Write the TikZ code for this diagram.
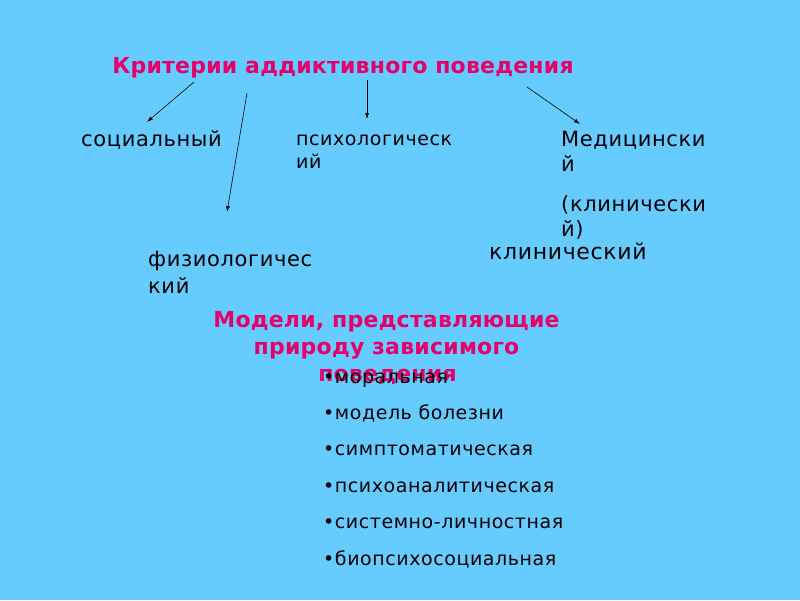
\documentclass[tikz,border=0pt]{standalone}
\usepackage{fontspec}
\setmainfont{DejaVu Sans}
\newfontfamily\bodyfont[LetterSpace=3]{DejaVu Sans}
\newfontfamily\headfont[LetterSpace=1]{DejaVu Sans Bold}
\usetikzlibrary{arrows.meta}
\definecolor{bgblue}{RGB}{102,204,255}
\definecolor{headpink}{RGB}{230,0,105}
\tikzset{
  body/.style={anchor=base west,inner sep=0pt,font=\bodyfont\fontsize{21}{24}\selectfont,text=black},
  bodysmall/.style={anchor=base west,inner sep=0pt,font=\bodyfont\fontsize{19}{22}\selectfont,text=black},
  bodylarge/.style={anchor=base west,inner sep=0pt,font=\bodyfont\fontsize{22}{25}\selectfont,text=black},
  head/.style={inner sep=0pt,font=\headfont\fontsize{22}{25}\selectfont,text=headpink},
  conn/.style={draw=black,line width=0.6pt,-{Latex[length=6pt,width=4pt]}}
}
\begin{document}
\begin{tikzpicture}[x=1pt,y=-1pt]
\fill[bgblue] (0,0) rectangle (800,600);
\useasboundingbox (0,0) rectangle (800,600);
% title
\node[head,anchor=base] (crit) at (343,73) {Критерии аддиктивного поведения};
% criteria
\node[body] (soc) at (81,146) {социальный};
\node[bodysmall] (psy1) at (296,145.5) {психологическ};
\node[bodysmall] (psy2) at (296,168) {ий};
\node[body] (med1) at (561,146.5) {Медицински};
\node[body] (med2) at (561,171.5) {й};
\node[body] (med3) at (561,211.5) {(клинически};
\node[body] (med4) at (561,236.5) {й)};
\node[body] (fiz1) at (148,266.5) {физиологичес};
\node[body] (fiz2) at (148,293) {кий};
\node[bodylarge] (klin) at (489,259) {клинический};
% connectors
\coordinate (a1s) at (194,82); \coordinate (a1e) at (147,122);
\coordinate (a2s) at (247,93); \coordinate (a2e) at (227,212);
\coordinate (a3s) at (367,80); \coordinate (a3e) at (367,119);
\coordinate (a4s) at (527,87); \coordinate (a4e) at (580,124);
\draw[conn] (a1s) -- (a1e);
\draw[conn] (a2s) -- (a2e);
\draw[conn] (a3s) -- (a3e);
\draw[conn] (a4s) -- (a4e);
% models heading
\node[head,anchor=base] (mod1) at (386.5,327) {Модели, представляющие};
\node[head,anchor=base] (mod2) at (386.5,354) {природу зависимого};
\node[head,anchor=base] (mod3) at (387.5,381) {поведения};
% bullets
\node[bodysmall] (b1) at (323,383) {•моральная};
\node[bodysmall] (b2) at (323,419.4) {•модель болезни};
\node[bodysmall] (b3) at (323,455.8) {•симптоматическая};
\node[bodysmall] (b4) at (323,492.2) {•психоаналитическая};
\node[bodysmall] (b5) at (323,528.6) {•системно-личностная};
\node[bodysmall] (b6) at (323,565) {•биопсихосоциальная};
\end{tikzpicture}
\end{document}
